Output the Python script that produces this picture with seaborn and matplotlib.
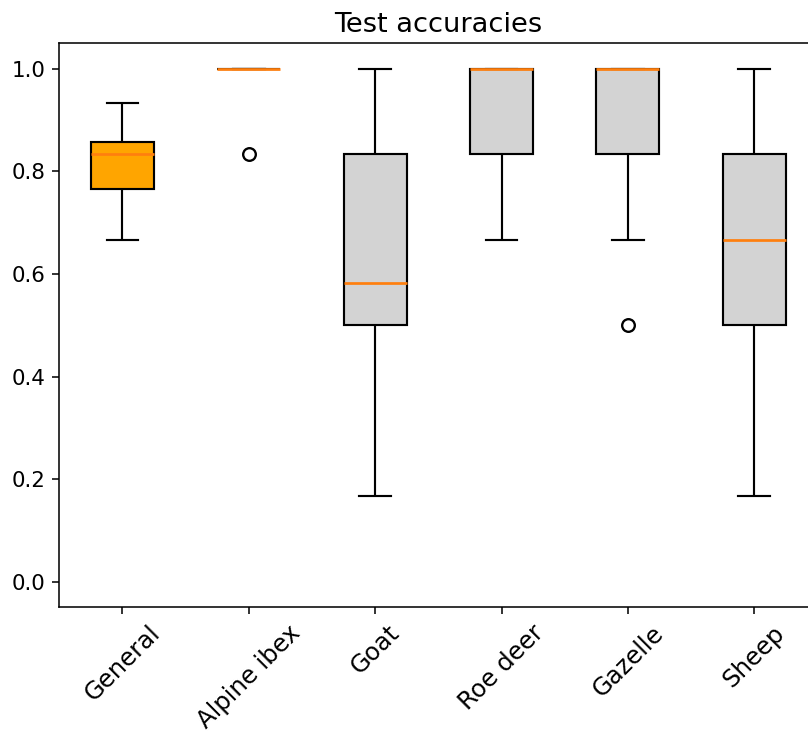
import numpy as np
import pandas as pd
import seaborn as sns
import matplotlib
matplotlib.use("Agg")
import matplotlib.pyplot as plt

plt.rcdefaults()
plt.rcParams.update({
    "font.family": ["DejaVu Sans"],
    "font.size": 10,
    "axes.linewidth": 0.8,
})

categories = ["General", "Alpine ibex", "Goat", "Roe deer", "Gazelle", "Sheep"]
general = [0.6667, 0.7333, 0.7667, 0.7667, 0.8333, 0.8333, 0.8333, 0.8667, 0.9000, 0.9333]
alpine_ibex = [1.0, 1.0, 1.0, 1.0, 1.0, 1.0, 1.0, 1.0, 1.0, 0.8333]
goat = [0.1667, 0.3333, 0.5, 0.5, 0.5, 0.6667, 0.8333, 0.8333, 1.0, 1.0]
roe_deer = [0.6667, 0.8333, 0.8333, 0.8333, 1.0, 1.0, 1.0, 1.0, 1.0, 1.0]
gazelle = [0.5, 0.6667, 0.8333, 0.8333, 1.0, 1.0, 1.0, 1.0, 1.0, 1.0]
sheep = [0.1667, 0.3333, 0.5, 0.5, 0.6667, 0.6667, 0.8333, 0.8333, 1.0, 1.0]
box_colors = ["orange", "lightgray", "lightgray", "lightgray", "lightgray", "lightgray"]

series = [general, alpine_ibex, goat, roe_deer, gazelle, sheep]
df = pd.DataFrame({
    "category": np.repeat(categories, [len(s) for s in series]),
    "accuracy": np.concatenate(series),
})
df["category"] = pd.Categorical(df["category"], categories=categories, ordered=True)

DPI = 140
fig = plt.figure(figsize=(808 / DPI, 738 / DPI), dpi=DPI)
ax = fig.add_axes([59.3 / 808, (738 - 607.3) / 738, 758.1 / 808, 564 / 738])

sns.boxplot(
    data=df, x="category", y="accuracy", hue="category",
    palette=dict(zip(categories, box_colors)), legend=False,
    width=0.5, saturation=1, linecolor="black", linewidth=1.1,
    whis=1.5, ax=ax,
    medianprops={"color": "#ff7f0e", "linewidth": 1.4, "solid_capstyle": "butt"},
    flierprops={"marker": "o", "markerfacecolor": "none",
                "markeredgecolor": "black", "markersize": 6.5,
                "markeredgewidth": 1.2},
)

ax.set_xlim(-0.5, 5.5)
ax.set_ylim(-0.05, 1.05)
ax.set_yticks([0.0, 0.2, 0.4, 0.6, 0.8, 1.0])
ax.set_xlabel("")
ax.set_ylabel("")
ax.set_title("Test accuracies", fontsize=14)
ax.tick_params(axis="y", labelsize=11, length=3.5, width=0.8)
ax.tick_params(axis="x", labelrotation=45, labelsize=12.5, length=3.5, width=0.8)
for lab in ax.get_xticklabels():
    lab.set_ha("center")

fig.savefig("out.png", dpi=DPI)
